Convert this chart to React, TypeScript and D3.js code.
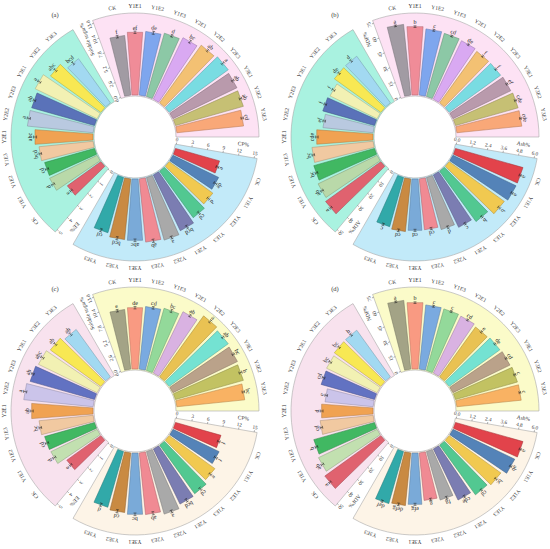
import React, { useEffect, useRef } from 'react';
import * as d3 from 'd3';

// treatments, same order in every sector
const treatments = ['CK', 'Y1E1', 'Y1E2', 'Y1E3', 'Y2E1', 'Y2E2', 'Y2E3', 'Y3E1', 'Y3E2', 'Y3E3'];

// panel (a)
const aSugarValues = [9.84, 10.32, 10.5, 10.8, 11.19, 11.67, 11.96, 11.67, 11.57, 11.0];
const aSugarErrors = [0.2, 0.2, 0.25, 0.2, 0.25, 0.2, 0.25, 0.2, 0.2, 0.2];
const aSugarLetters = ['f', 'ef', 'de', 'd', 'bc', 'ab', 'a', 'ab', 'ab', 'cd'];
const aCpValues = [8.66, 9.62, 10.2, 10.87, 11.74, 12.32, 12.03, 11.64, 11.55, 10.87];
const aCpErrors = [0.25, 0.3, 0.25, 0.3, 0.3, 0.25, 0.3, 0.25, 0.3, 0.3];
const aCpLetters = ['e', 'de', 'd', 'cd', 'bcd', 'a', 'ab', 'abc', 'bcd', 'cd'];
const aEeValues = [2.61, 3.33, 3.27, 3.43, 3.67, 4.17, 4.12, 4.34, 3.92, 3.44];
const aEeErrors = [0.08, 0.1, 0.1, 0.08, 0.1, 0.1, 0.08, 0.1, 0.1, 0.1];
const aEeLetters = ['e', 'd', 'cd', 'bcd', 'abc', 'a', 'ab', 'a', 'abc', 'bcd'];

// panel (b)
const bNdfValues = [67.3, 64.9, 63.0, 62.1, 61.4, 60.1, 60.1, 60.8, 61.6, 61.8];
const bNdfErrors = [0.8, 0.8, 0.9, 0.8, 0.8, 0.9, 0.8, 0.8, 0.9, 0.8];
const bNdfLetters = ['a', 'b', 'c', 'cd', 'de', 'f', 'f', 'ef', 'cde', 'cde'];
const bAshValues = [5.31, 5.31, 5.15, 4.71, 4.41, 4.1, 3.87, 3.9, 4.01, 3.87];
const bAshErrors = [0.08, 0.08, 0.1, 0.08, 0.08, 0.1, 0.08, 0.08, 0.1, 0.08];
const bAshLetters = ['a', 'a', 'b', 'b', 'c', 'd', 'cd', 'cd', 'cd', 'c'];
const bAdfValues = [43.0, 41.4, 39.8, 38.8, 35.6, 31.8, 33.9, 33.0, 36.2, 36.3];
const bAdfErrors = [0.8, 0.9, 0.8, 0.8, 0.9, 0.8, 0.8, 0.9, 0.8, 0.8];
const bAdfLetters = ['a', 'ab', 'bc', 'bc', 'cde', 'ef', 'f', 'f', 'de', 'd'];

// panel (c)
const cSugarValues = [9.84, 10.09, 10.32, 10.61, 11.19, 12.34, 11.96, 11.76, 11.57, 11.19];
const cSugarErrors = [0.2, 0.2, 0.2, 0.25, 0.2, 0.25, 0.2, 0.2, 0.25, 0.2];
const cSugarLetters = ['e', 'de', 'cd', 'bc', 'ab', 'a', 'ab', 'bc', 'b', 'bc'];
const cCpValues = [8.95, 9.72, 10.68, 11.35, 11.6, 12.32, 11.74, 11.64, 11.35, 10.97];
const cCpErrors = [0.25, 0.3, 0.25, 0.3, 0.3, 0.25, 0.3, 0.25, 0.3, 0.3];
const cCpLetters = ['f', 'f', 'e', 'cd', 'bcd', 'a', 'ab', 'bc', 'cd', 'd'];
const cEeValues = [2.65, 3.24, 3.27, 3.43, 3.88, 4.4, 4.22, 4.11, 3.93, 3.69];
const cEeErrors = [0.08, 0.1, 0.1, 0.08, 0.1, 0.1, 0.08, 0.1, 0.1, 0.1];
const cEeLetters = ['e', 'd', 'cd', 'bc', 'ab', 'a', 'ab', 'abc', 'ab', 'ab'];

// panel (d)
const dNdfValues = [65.4, 63.0, 61.1, 60.6, 59.9, 58.2, 59.2, 60.0, 60.9, 61.2];
const dNdfErrors = [0.8, 0.8, 0.9, 0.8, 0.8, 0.9, 0.8, 0.8, 0.9, 0.8];
const dNdfLetters = ['a', 'b', 'c', 'c', 'cd', 'e', 'de', 'cd', 'c', 'c'];
const dAshValues = [5.31, 5.2, 4.83, 4.64, 4.3, 3.82, 3.62, 3.9, 4.01, 4.1];
const dAshErrors = [0.08, 0.08, 0.1, 0.08, 0.08, 0.1, 0.08, 0.08, 0.1, 0.08];
const dAshLetters = ['a', 'ab', 'bc', 'cd', 'cde', 'fg', 'g', 'efg', 'defg', 'def'];
const dAdfValues = [43.6, 41.1, 39.8, 33.6, 32.5, 30.5, 35.0, 35.4, 36.2, 36.3];
const dAdfErrors = [0.8, 0.9, 0.8, 0.8, 0.9, 0.8, 0.8, 0.9, 0.8, 0.8];
const dAdfLetters = ['a', 'ab', 'b', 'cd', 'd', 'e', 'cd', 'bc', 'bc', 'b'];

// axis ticks
const sugarTicks = ['0.0', '2.6', '5.2', '7.8', '10.4', '13.0'];
const cpTicks = ['0', '3', '6', '9', '12', '15'];
const eeTicks = ['0', '1', '2', '3', '4', '5'];
const ndfTicks = ['0', '15', '30', '45', '60', '75'];
const ashTicks = ['0.0', '1.2', '2.4', '3.6', '4.8', '6.0'];
const adfTicks = ['0', '10', '20', '30', '40', '50'];

// bar colours
const topColorsAB = ['#a19ba3', '#f08c98', '#7ea6ee', '#8cc8a6', '#d9a9f2', '#f3c173', '#79dce2', '#b99aac', '#c6c074', '#f9a878'];
const bottomColors = ['#e2434b', '#5483b8', '#f1c950', '#52c891', '#7b7db2', '#a9a9a9', '#f08a93', '#7aaad8', '#c98a42', '#31a9a9'];
const leftColorsAB = ['#e0626f', '#b9d9a9', '#41b862', '#f1c9a1', '#f0a252', '#b9c9e0', '#5a72b9', '#f2f1b3', '#f8e853', '#a2d9f1'];
const topColorsCD = ['#a3a386', '#f99a82', '#7aaae0', '#93d99a', '#d9b2e2', '#e9c253', '#74e2d2', '#baa28a', '#c2c262', '#f9b263'];
const leftColorsCD = ['#e0626f', '#c2e0b0', '#41b862', '#f1c9a1', '#f0a252', '#cbc4ea', '#6272c2', '#f2f1b3', '#f8e853', '#a2d9f1'];

// sector backgrounds
const bgAB = ['#fde2f4', '#c2eaf9', '#a9f2e0'];
const bgCD = ['#fbfbc9', '#fdf4e7', '#f8e2ee'];

const sectorStarts = [-20, 100, 220];

const App = () => {
  const ref = useRef(null);

  useEffect(() => {
    const svg = d3.select(ref.current);
    svg.selectAll('*').remove();

    const R0 = 42, RMAX = 121, WIN = 41, WOUT = 124, LABR = 131;
    const font = '"Liberation Serif", "Times New Roman", serif';
    const halfAng = (4.2 * Math.PI) / 180;

    const mk = (title, ticks, values, errors, letters, colors) => ({ title, ticks, values, errors, letters, colors });

    const panels = [
      { tag: '(a)', cx: 135, cy: 137, bg: bgAB, groups: [
        mk('Soluble sugar%', sugarTicks, aSugarValues, aSugarErrors, aSugarLetters, topColorsAB),
        mk('CP%', cpTicks, aCpValues, aCpErrors, aCpLetters, bottomColors),
        mk('EE%', eeTicks, aEeValues, aEeErrors, aEeLetters, leftColorsAB)] },
      { tag: '(b)', cx: 415, cy: 137, bg: bgAB, groups: [
        mk('NDF%', ndfTicks, bNdfValues, bNdfErrors, bNdfLetters, topColorsAB),
        mk('Ash%', ashTicks, bAshValues, bAshErrors, bAshLetters, bottomColors),
        mk('ADF%', adfTicks, bAdfValues, bAdfErrors, bAdfLetters, leftColorsAB)] },
      { tag: '(c)', cx: 135, cy: 411, bg: bgCD, groups: [
        mk('Soluble sugar%', sugarTicks, cSugarValues, cSugarErrors, cSugarLetters, topColorsCD),
        mk('CP%', cpTicks, cCpValues, cCpErrors, cCpLetters, bottomColors),
        mk('EE%', eeTicks, cEeValues, cEeErrors, cEeLetters, leftColorsCD)] },
      { tag: '(d)', cx: 415, cy: 411, bg: bgCD, groups: [
        mk('NDF%', ndfTicks, dNdfValues, dNdfErrors, dNdfLetters, topColorsCD),
        mk('Ash%', ashTicks, dAshValues, dAshErrors, dAshLetters, bottomColors),
        mk('ADF%', adfTicks, dAdfValues, dAdfErrors, dAdfLetters, leftColorsCD)] },
    ];

    const rad = (deg) => (deg * Math.PI) / 180;

    panels.forEach((p) => {
      const pg = svg.append('g').attr('transform', `translate(${p.cx},${p.cy})`);

      svg.append('text')
        .attr('x', p.cx - 80).attr('y', p.cy - 120)
        .attr('text-anchor', 'middle')
        .style('font-family', font).style('font-size', '6.5px').attr('fill', '#333')
        .text(p.tag);

      p.groups.forEach((grp, gi) => {
        const s = sectorStarts[gi];
        const max = +grp.ticks[grp.ticks.length - 1];
        const r = d3.scaleLinear().domain([0, max]).range([R0, RMAX]);

        // sector background
        const arc = d3.arc()
          .innerRadius(WIN).outerRadius(WOUT)
          .startAngle(rad(s)).endAngle(rad(s + 110));
        pg.append('path')
          .attr('d', arc())
          .attr('fill', p.bg[gi])
          .attr('stroke', '#a8a8a8')
          .attr('stroke-width', 0.6);

        // axis along the sector's first edge
        const ax = pg.append('g').attr('transform', `rotate(${s})`);
        grp.ticks.forEach((t) => {
          ax.append('line')
            .attr('x1', -1.8).attr('x2', 0)
            .attr('y1', -r(+t)).attr('y2', -r(+t))
            .attr('stroke', '#666').attr('stroke-width', 0.5);
          ax.append('text')
            .attr('transform', `translate(-5,${-r(+t)}) rotate(-90)`)
            .attr('text-anchor', 'middle')
            .attr('dominant-baseline', 'central')
            .style('font-family', font).style('font-size', '5.2px').attr('fill', '#333')
            .text(t);
        });
        ax.append('text')
          .attr('transform', `translate(-12,${-108}) rotate(-90)`)
          .attr('text-anchor', 'middle')
          .attr('dominant-baseline', 'central')
          .style('font-family', font).style('font-size', '5.5px').attr('fill', '#333')
          .text(grp.title);

        // bars
        grp.values.forEach((v, k) => {
          const a = s + 10 + 10 * k;
          const g = pg.append('g').attr('transform', `rotate(${a})`);
          const rv = r(v);
          const h0 = R0 * Math.tan(halfAng);
          const h1 = rv * Math.tan(halfAng);
          const fill = grp.colors[k];
          g.append('path')
            .attr('d', `M${-h0},${-R0}L${h0},${-R0}L${h1},${-rv}L${-h1},${-rv}Z`)
            .attr('fill', fill)
            .attr('stroke', d3.color(fill).darker(0.9).formatHex())
            .attr('stroke-width', 0.5);

          const e = r(v + grp.errors[k]) - rv;
          g.append('path')
            .attr('d', `M0,${-rv + e}V${-rv - e}M-1.5,${-rv - e}H1.5M-1.5,${-rv + e}H1.5`)
            .attr('stroke', '#222').attr('stroke-width', 0.5).attr('fill', 'none');

          g.append('text')
            .attr('x', 0).attr('y', -rv - e - 1.5)
            .attr('text-anchor', 'middle')
            .style('font-family', font).style('font-size', '6px').attr('fill', '#222')
            .text(grp.letters[k]);

          g.append('text')
            .attr('x', 0).attr('y', -LABR)
            .attr('text-anchor', 'middle')
            .attr('dominant-baseline', 'central')
            .style('font-family', font).style('font-size', '5.5px').attr('fill', '#333')
            .text(treatments[k]);
        });
      });
    });
  }, []);

  return (
    <svg ref={ref} width={550} height={549}
      style={{ position: 'absolute', left: 0, top: 0, background: '#fff' }} />
  );
};

export default App;
